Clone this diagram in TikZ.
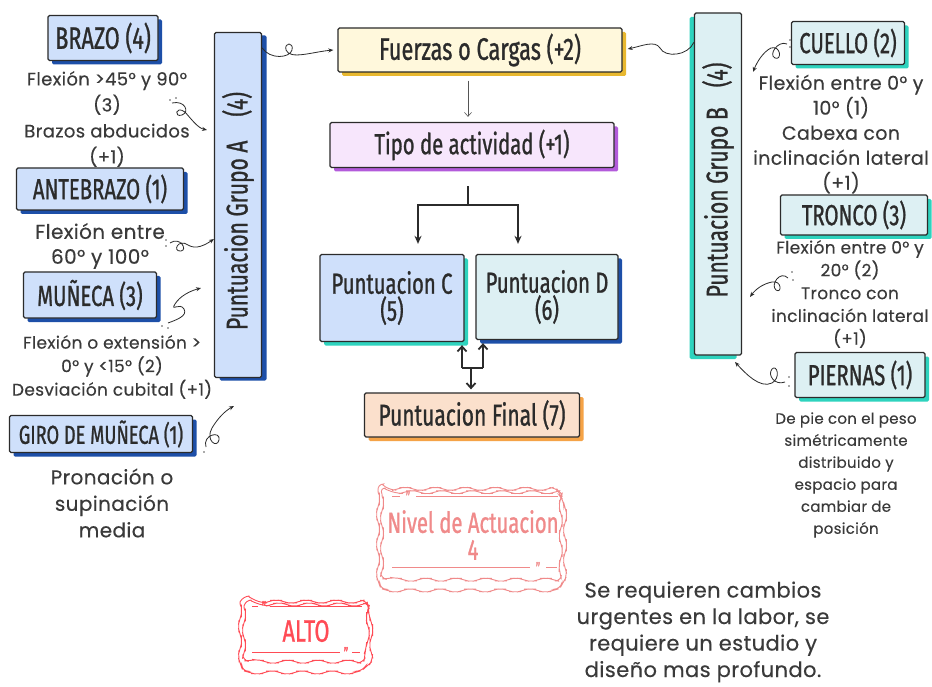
\documentclass[tikz,border=0pt]{standalone}
\usepackage{fontspec}
\setmainfont{Poppins}[LetterSpace=2,FakeBold=0.3]
\newfontfamily\hand[FakeStretch=0.70,FakeBold=0.9]{Fira Sans}
\usetikzlibrary{shadows,decorations.pathmorphing,arrows.meta}
\definecolor{lblue}{HTML}{CFE0FB}
\definecolor{dblue}{HTML}{1D4FA8}
\definecolor{lcyan}{HTML}{DDF0F3}
\definecolor{tealS}{HTML}{2ED3BE}
\definecolor{cream}{HTML}{FFF8DC}
\definecolor{goldS}{HTML}{E8B830}
\definecolor{lav}{HTML}{F7E6FC}
\definecolor{purpS}{HTML}{B35BDB}
\definecolor{peach}{HTML}{FBE0CC}
\definecolor{orangeS}{HTML}{F5A347}
\definecolor{stampR}{HTML}{F08A8A}
\definecolor{redS}{HTML}{FF4B55}
\definecolor{txt}{HTML}{3A3A3A}
\definecolor{ink}{HTML}{2B2B2B}
\tikzset{
  box/.style={draw=ink, line width=1.3pt, rounded corners=1.5pt, text=ink,
    font={\hand\fontsize{29}{27}\selectfont}, inner sep=1pt, align=center},
  sh/.style={drop shadow={shadow xshift=4pt, shadow yshift=-4pt, fill=#1, opacity=1}},
  shl/.style={drop shadow={shadow xshift=-5pt, shadow yshift=-4pt, fill=#1, opacity=1}},
  body/.style={align=center, text=txt, inner sep=0pt},
  curly/.style={-{Stealth[length=5pt,width=4pt]}, line width=0.8pt, draw=ink},
  barb/.style={-{Straight Barb[length=5pt,width=9pt]}, line width=1.8pt, draw=ink},
  wavy/.style={draw=#1, line width=0.9pt, rounded corners=6pt, decorate, decoration={snake, amplitude=1.3pt, segment length=30pt}},
  stline/.style={draw=#1, line width=0.7pt},
  quote/.style={text=#1, inner sep=0pt, font={\hand\fontsize{16}{16}\selectfont}}
}
\begin{document}
\begin{tikzpicture}[x=1pt,y=-1pt]
\useasboundingbox (0,0) rectangle (932,687);
\fill[white] (0,0) rectangle (932,687);

% ---------- Left column ----------
\node[box, fill=lblue, sh=dblue, minimum width=110pt, minimum height=45pt, font={\hand\fontsize{31}{27}\selectfont}] (brazo) at (103,38) {BRAZO (4)};
\node[body, font={\fontsize{18}{26}\selectfont}] (tbrazo) at (107,119) {Flexión >45° y 90°\\(3)\\Brazos abducidos\\(+1)};
\node[box, fill=lblue, sh=dblue, minimum width=167pt, minimum height=42pt] (ante) at (100,189) {ANTEBRAZO (1)};
\node[body, font={\fontsize{20}{25}\selectfont}] (tante) at (100,246) {Flexión entre\\60° y 100°};
\node[box, fill=lblue, sh=dblue, minimum width=133pt, minimum height=46pt] (mun) at (90,295) {MUÑECA (3)};
\node[body, font={\fontsize{17}{23.5}\selectfont}] (tmun) at (112,367) {Flexión o extensión >\\0° y <15° (2)\\Desviación cubital (+1)};
\node[box, fill=lblue, sh=dblue, minimum width=183pt, minimum height=37pt, font={\hand\fontsize{26}{26}\selectfont}] (giro) at (101,434) {GIRO DE MUÑECA (1)};
\node[body, font={\fontsize{20}{26.5}\selectfont}] (tgiro) at (112,503) {Pronación o\\supinación\\media};

% Group A
\node[box, fill=lblue, drop shadow={shadow xshift=5pt, shadow yshift=-3pt, fill=dblue, opacity=1}, minimum width=47pt, minimum height=345pt] (ga) at (238,205) {};
\node[rotate=90, text=ink, font={\hand\fontsize{30}{30}\selectfont}] at ([yshift=-6pt]ga.center) {Puntuacion Grupo A\hspace{24pt}(4)};

% ---------- Center ----------
\node[box, fill=cream, sh=goldS, minimum width=284pt, minimum height=44pt, font={\hand\fontsize{31}{27}\selectfont}] (fu) at (480,50) {Fuerzas o Cargas (+2)};
\node[box, fill=lav, sh=purpS, minimum width=284pt, minimum height=45pt] (ti) at (472,145) {Tipo de actividad (+1)};
\node[box, fill=lblue, sh=tealS, minimum width=144pt, minimum height=87pt] (pc) at (392,298) {Puntuacion C\\(5)};
\node[box, fill=lcyan, sh=dblue, minimum width=142pt, minimum height=85pt] (pd) at (547,297) {Puntuacion D\\(6)};
\node[box, fill=peach, sh=orangeS, minimum width=215pt, minimum height=44pt, font={\hand\fontsize{30}{27}\selectfont}] (pf) at (472,415) {Puntuacion Final (7)};

\draw[-{Straight Barb[length=4pt,width=7pt]}, line width=0.6pt, draw=ink!80] ([yshift=-8pt]fu.south -| 468,0) -- ([yshift=5pt]ti.north -| 468,0);
\coordinate (j) at (468,205);
\draw[line width=1.8pt, draw=ink] ([yshift=-18pt]ti.south -| j) -- (j);
\draw[-{Stealth[length=8pt,width=7pt]}, line width=1.8pt, draw=ink] (j) -| ([yshift=10pt]pc.north -| 418,0);
\draw[-{Stealth[length=8pt,width=7pt]}, line width=1.8pt, draw=ink] (j) -| ([yshift=10pt]pd.north -| 518,0);
\coordinate (m) at (472,368);
\draw[line width=1.8pt, draw=ink] (462,368) -- (483,368);
\draw[barb] (m -| 462,0) -- ([yshift=-3pt]pc.south -| 462,0);
\draw[barb] (m -| 483,0) -- ([yshift=-3pt]pd.south -| 483,0);
\draw[barb] (m -| 471,0) -- ([yshift=3pt]pf.north -| 471,0);

% ---------- Right column ----------
\node[box, fill=lcyan, shl=tealS, minimum width=47pt, minimum height=342pt] (gb) at (718,184) {};
\node[rotate=90, text=ink, font={\hand\fontsize{30}{30}\selectfont}] at ([yshift=4pt]gb.center) {Puntuacion Grupo B\hspace{20pt}(4)};
\node[box, fill=lcyan, sh=tealS, minimum width=113pt, minimum height=43pt] (cue) at (848,43) {CUELLO (2)};
\node[body, font={\fontsize{19}{25}\selectfont}] (tcue) at (841,134) {Flexión entre 0° y\\10° (1)\\Cabexa con\\inclinación lateral\\(+1)};
\node[box, fill=lcyan, sh=tealS, minimum width=147pt, minimum height=40pt] (tro) at (854,215) {TRONCO (3)};
\node[body, font={\fontsize{17}{22.8}\selectfont}] (ttro) at (850,294) {Flexión entre 0° y\\20° (2)\\Tronco con\\inclinación lateral\\(+1)};
\node[box, fill=lcyan, sh=tealS, minimum width=130pt, minimum height=45pt] (pie) at (860,375) {PIERNAS (1)};
\node[body, font={\fontsize{15}{22}\selectfont}] (tpie) at (846,475) {De pie con el peso\\simétricamente\\distribuido y\\espacio para\\cambiar de\\posición};

% ---------- Curly connectors ----------
\coordinate (a1) at (172,103); \coordinate (a1e) at (207,130);
\draw[curly] (a1) .. controls (185,100) and (190,112) .. (182,115) .. controls (174,118) and (175,105) .. (185,112) .. controls (192,120) and (198,128) .. (a1e);
\coordinate (a2) at (170,243); \coordinate (a2e) at (214,239);
\draw[curly] (a2) .. controls (180,236) and (188,250) .. (181,251) .. controls (172,252) and (178,238) .. (188,245) .. controls (196,250) and (205,245) .. (a2e);
\coordinate (a3) at (168,323); \coordinate (a3e) at (201,288);
\draw[curly] (a3) .. controls (176,320) and (188,316) .. (184,309) .. controls (180,302) and (170,312) .. (175,304) .. controls (180,296) and (190,291) .. (a3e);
\coordinate (a4) at (206,447); \coordinate (a4e) at (234,406);
\draw[curly] (a4) .. controls (202,435) and (221,430) .. (219,440) .. controls (217,449) and (205,440) .. (212,428) .. controls (218,418) and (225,411) .. (a4e);
\draw[curly] ([yshift=-16pt]ga.north east) .. controls (270,60) and (290,58) .. (292,50) .. controls (294,42) and (284,42) .. (286,50) .. controls (290,60) and (312,52) .. ([xshift=-4pt]fu.west);
\draw[curly] ([yshift=-30pt]gb.north west) .. controls (688,56) and (665,58) .. (660,48) .. controls (655,40) and (642,46) .. ([xshift=5pt,yshift=1pt]fu.east);
\coordinate (b1) at (787,44); \coordinate (b1e) at (753,72);
\draw[curly] (b1) .. controls (778,40) and (768,55) .. (775,58) .. controls (782,61) and (781,45) .. (771,48) .. controls (763,52) and (757,62) .. (b1e);
\coordinate (b2) at (788,278); \coordinate (b2e) at (750,297);
\draw[curly] (b2) .. controls (780,270) and (770,285) .. (776,290) .. controls (782,294) and (782,280) .. (772,282) .. controls (762,284) and (755,290) .. (b2e);
\coordinate (b3) at (785,382); \coordinate (b3e) at (735,362);
\draw[curly] (b3) .. controls (775,386) and (767,375) .. (772,369) .. controls (777,364) and (781,378) .. (772,383) .. controls (760,389) and (745,373) .. (b3e);
% tiny dots
\foreach \p in {(170,100),(176,98),(166,240),(166,246),(162,326),(168,328),(204,452),(790,40),(790,47),(792,272),(793,280),(789,377),(789,386)}
  \fill[ink!80] \p circle (0.9pt);

% ---------- Stamps ----------
\draw[wavy=stampR] (378,484) rectangle (568,580);
\draw[wavy=stampR] (382,488) rectangle (564,576);
\node[text=stampR, align=center, inner sep=0pt, font={\hand\fontsize{29}{27}\selectfont}] (niv) at (473,535) {Nivel de Actuacion\\4};
\draw[stline=stampR] (392,496) -- (400,496) (416,496) -- (558,496);
\node[quote=stampR] at (408,497) {”};
\draw[stline=stampR] (392,567) -- (530,567) (546,567) -- (557,567);
\node[quote=stampR] at (538,568) {”};

\draw[wavy=redS] (240,596) rectangle (372,662);
\draw[wavy=redS] (244,600) rectangle (368,658);
\node[text=redS, inner sep=0pt, font={\hand\fontsize{31}{30}\selectfont}] (alto) at (306,631) {ALTO};
\draw[stline=redS] (252,606) -- (258,606) (270,606) -- (362,606);
\node[quote=redS] at (264,607) {”};
\draw[stline=redS] (252,652) -- (340,652) (352,652) -- (360,652);
\node[quote=redS] at (346,653) {”};

\node[body, font={\fontsize{21}{26.5}\selectfont}] (desc) at (703,632) {Se requieren cambios\\urgentes en la labor, se\\requiere un estudio y\\diseño mas profundo.};
\end{tikzpicture}
\end{document}
